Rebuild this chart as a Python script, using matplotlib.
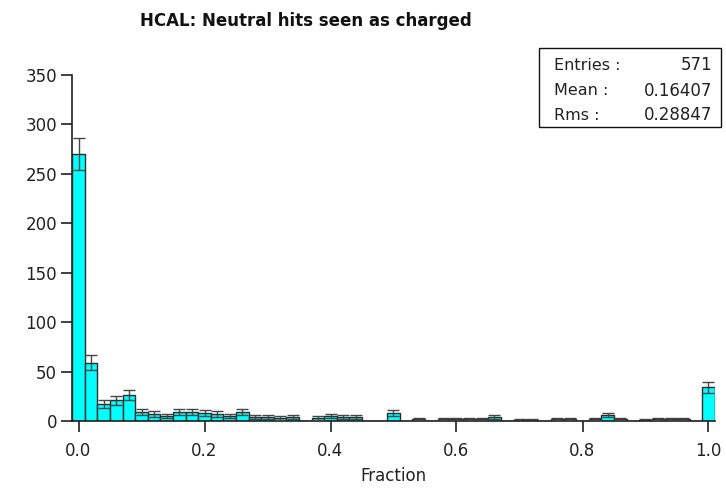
import matplotlib
matplotlib.use("Agg")
import matplotlib.pyplot as plt
from matplotlib.patches import Rectangle
import numpy as np

# ---- data ----
bin_width = 0.02
counts = [270, 59, 17, 21, 26, 9, 7, 5, 9, 9,
          8, 7, 5, 9, 4, 4, 3, 4, 0, 3,
          5, 4, 4, 0, 0, 8, 0, 2, 0, 2,
          2, 2, 2, 4, 0, 1, 1, 0, 2, 2,
          0, 2, 6, 2, 0, 1, 2, 2, 2, 0,
          34]
centers = [i * bin_width for i in range(len(counts))]
xticks = [0.0, 0.2, 0.4, 0.6, 0.8, 1.0]
xticklabels = ["0.0", "0.2", "0.4", "0.6", "0.8", "1.0"]
yticks = [0, 50, 100, 150, 200, 250, 300, 350]
title = "HCAL: Neutral hits seen as charged"
xlabel = "Fraction"
stats_labels = ["Entries :", "Mean : ", "Rms :"]
stats_values = ["571", "0.16407", "0.28847"]

W, H = 726, 488
fig = plt.figure(figsize=(W / 100, H / 100), dpi=100)
plt.rcParams['font.family'] = ['DejaVu Sans']

left, right, top, bottom = 72.2, 714.8, 75, 421
ax = fig.add_axes([left / W, 1 - bottom / H, (right - left) / W, (bottom - top) / H])

c = np.array(centers)
n = np.array(counts, dtype=float)
ax.bar(c, n, width=bin_width, align='center', color='#00FFFF',
       edgecolor='#2a2a2a', linewidth=1.0, zorder=2)
mask = n > 0
ax.errorbar(c[mask], n[mask], yerr=np.sqrt(n[mask]), fmt='none',
            ecolor='#454545', elinewidth=1.0, capsize=4, capthick=1.0, zorder=3)

ax.set_xlim(-0.01, 1.01)
ax.set_ylim(0, 350)
ax.set_xticks(xticks)
ax.set_xticklabels(xticklabels)
ax.set_yticks(yticks)
for s in ['top', 'right']:
    ax.spines[s].set_visible(False)
for s in ['left', 'bottom']:
    ax.spines[s].set_color('#202020')
    ax.spines[s].set_linewidth(1.2)
ax.tick_params(axis='both', direction='out', length=8, width=1.2,
               color='#202020', labelsize=12, labelcolor='#222222', pad=3)
ax.tick_params(axis='x', pad=7)
ax.set_xlabel(xlabel, fontsize=12, color='#222222', labelpad=5)

fig.text(306 / W, 1 - 21 / H, title, ha='center', va='center',
         fontsize=12, fontweight='bold', color='#111111')

# stats box
bx0, bx1, by0, by1 = 539, 721, 48, 127
fig.patches.append(Rectangle((bx0 / W, 1 - by1 / H), (bx1 - bx0) / W, (by1 - by0) / H,
                             transform=fig.transFigure, facecolor='white',
                             edgecolor='#111111', linewidth=1.0, zorder=5))
ys = [65.5, 90.5, 115.5]
for lab, val, yy in zip(stats_labels, stats_values, ys):
    fig.text(554 / W, 1 - yy / H, lab, ha='left', va='center', fontsize=11.5,
             color='#222222', zorder=6)
    fig.text(712 / W, 1 - yy / H, val, ha='right', va='center', fontsize=12,
             color='#222222', zorder=6)

fig.savefig("out.png", dpi=100)
